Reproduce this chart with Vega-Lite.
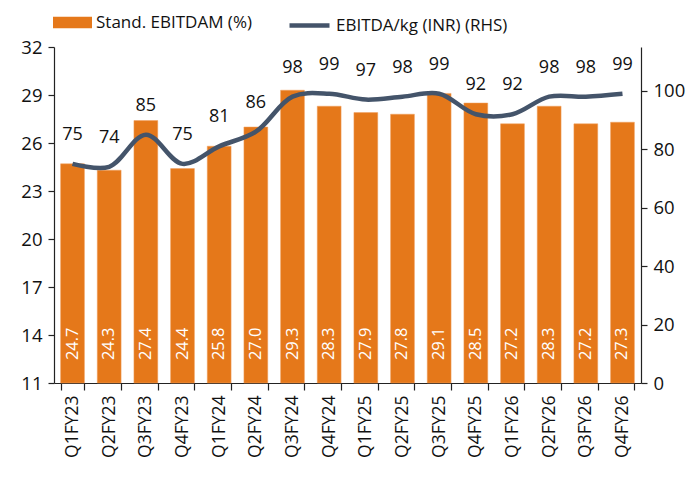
{
  "$schema": "https://vega.github.io/schema/vega-lite/v6.json",
  "width": 587,
  "height": 336,
  "autosize": {"type": "none"},
  "padding": {"left": 54, "top": 47, "right": 59, "bottom": 96},
  "config": {
    "view": {"stroke": null},
    "font": "Open Sans",
    "axis": {"domainColor": "#222222", "tickColor": "#222222", "labelColor": "#111111", "grid": false, "domainWidth": 1.2, "tickWidth": 1.2, "tickSize": 6}
  },
  "data": {
    "values": [
      {"q": "Q1FY23", "m": 24.7, "k": 75},
      {"q": "Q2FY23", "m": 24.3, "k": 74},
      {"q": "Q3FY23", "m": 27.4, "k": 85},
      {"q": "Q4FY23", "m": 24.4, "k": 75},
      {"q": "Q1FY24", "m": 25.8, "k": 81},
      {"q": "Q2FY24", "m": 27.0, "k": 86},
      {"q": "Q3FY24", "m": 29.3, "k": 98},
      {"q": "Q4FY24", "m": 28.3, "k": 99},
      {"q": "Q1FY25", "m": 27.9, "k": 97},
      {"q": "Q2FY25", "m": 27.8, "k": 98},
      {"q": "Q3FY25", "m": 29.1, "k": 99},
      {"q": "Q4FY25", "m": 28.5, "k": 92},
      {"q": "Q1FY26", "m": 27.2, "k": 92},
      {"q": "Q2FY26", "m": 28.3, "k": 98},
      {"q": "Q3FY26", "m": 27.2, "k": 98},
      {"q": "Q4FY26", "m": 27.3, "k": 99}
    ]
  },
  "encoding": {
    "x": {
      "field": "q", "type": "nominal", "sort": null, "title": null,
      "scale": {"paddingInner": 0.35, "paddingOuter": 0.18},
      "axis": {"labelAngle": -90, "labelFontSize": 17.5, "labelPadding": 5, "tickBand": "extent", "tickSize": 7}
    }
  },
  "layer": [
    {
      "layer": [
        {
          "mark": {"type": "bar", "stroke": "#f0a060", "strokeWidth": 0.5},
          "encoding": {
            "y": {
              "field": "m", "type": "quantitative", "title": null,
              "scale": {"domain": [11, 32], "zero": false, "nice": false},
              "axis": {"values": [11, 14, 17, 20, 23, 26, 29, 32], "labelFontSize": 18.5, "labelPadding": 6}
            },
            "y2": {"datum": 11},
            "fill": {
              "datum": "Stand. EBITDAM (%)",
              "scale": {"range": ["#e5781a"]},
              "legend": {
                "orient": "none", "legendX": -1, "legendY": -44,
                "title": null, "symbolType": "M-1,-0.3H1V0.3H-1Z", "symbolSize": 1521,
                "symbolStrokeWidth": 0, "labelFontSize": 17, "labelColor": "#111111", "labelOffset": 4, "labelLimit": 400
              }
            }
          }
        },
        {
          "mark": {"type": "text", "angle": -90, "align": "center", "baseline": "middle", "fontSize": 16.5, "color": "white"},
          "encoding": {
            "y": {"datum": 13.45},
            "text": {"field": "m", "type": "quantitative", "format": ".1f"}
          }
        }
      ]
    },
    {
      "layer": [
        {
          "mark": {"type": "line", "interpolate": "catmull-rom", "strokeWidth": 4.5},
          "encoding": {
            "y": {
              "field": "k", "type": "quantitative", "title": null,
              "scale": {"domain": [0, 115], "nice": false},
              "axis": {"orient": "right", "values": [0, 20, 40, 60, 80, 100], "labelFontSize": 18.5, "labelPadding": 6}
            },
            "stroke": {
              "datum": "EBITDA/kg (INR) (RHS)",
              "scale": {"range": ["#44546a"]},
              "legend": {
                "orient": "none", "legendX": 233, "legendY": -44,
                "title": null, "symbolType": "stroke", "symbolSize": 1600,
                "symbolStrokeWidth": 4.5, "labelFontSize": 17, "labelColor": "#111111", "labelOffset": 4, "labelLimit": 400
              }
            }
          }
        },
        {
          "mark": {"type": "text", "dy": -29, "fontSize": 18, "color": "#111111", "baseline": "middle"},
          "encoding": {
            "y": {"field": "k", "type": "quantitative"},
            "text": {"field": "k", "type": "quantitative"}
          }
        }
      ]
    }
  ],
  "resolve": {"scale": {"y": "independent"}}
}
